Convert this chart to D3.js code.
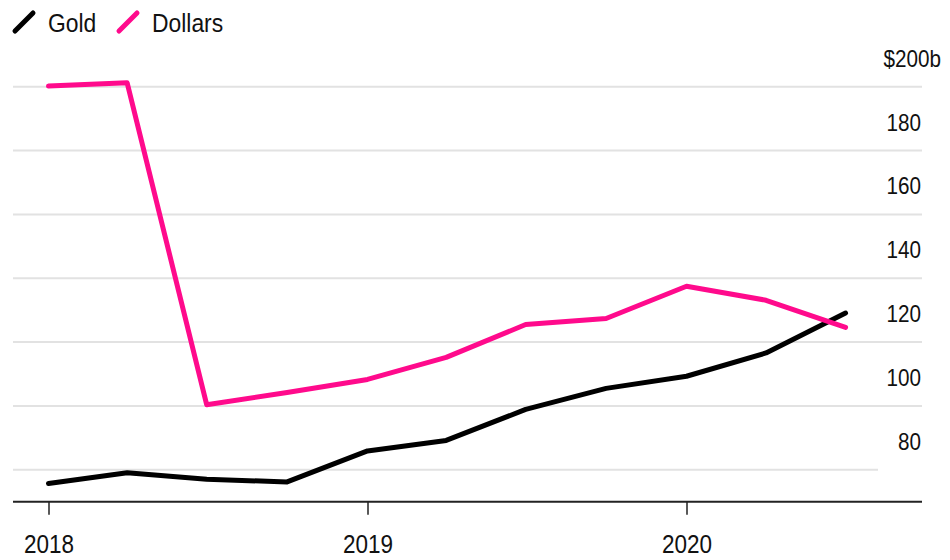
<!DOCTYPE html>
<html>
<head>
<meta charset="utf-8">
<script src="https://cdn.jsdelivr.net/npm/d3@7/dist/d3.min.js"></script>
<style>
  body { margin: 0; background: #fff; }
  svg { display: block; font-family: "Liberation Sans", Arial, Helvetica, sans-serif; }
</style>
</head>
<body>
<svg id="chart" width="950" height="560"></svg>
<script>
const quarters = ["2018-01-01","2018-04-01","2018-07-01","2018-10-01","2019-01-01","2019-04-01","2019-07-01","2019-10-01","2020-01-01","2020-04-01","2020-07-01"];
const gold    = [75.7, 79.1, 77.0, 76.2, 85.9, 89.2, 98.9, 105.5, 109.3, 116.6, 129.1];
const dollars = [200.2, 201.2, 100.4, 104.2, 108.3, 115.2, 125.5, 127.4, 137.5, 133.1, 124.6];
const yTicks = [80, 100, 120, 140, 160, 180, 200];
const xTicks = ["2018-01-01", "2019-01-01", "2020-01-01"];
const seriesNames = ["Gold", "Dollars"];
const seriesColors = ["#000000", "#ff0a8c"];

const parse = d3.timeParse("%Y-%m-%d");
const svg = d3.select("#chart");

const x = d3.scaleTime()
  .domain([parse("2018-01-01"), parse("2020-01-01")])
  .range([48.5, 686.5]);
const y = d3.scaleLinear().domain([70, 200]).range([501.7, 86.7]);

const left = 13, right = 922;
const sx = 0.88;

// gridlines
svg.append("g").selectAll("line").data(yTicks).join("line")
  .attr("x1", left)
  .attr("x2", d => d === 80 ? 878 : right)
  .attr("y1", d => y(d)).attr("y2", d => y(d))
  .attr("stroke", "#e2e2e2").attr("stroke-width", 2);

// y labels
svg.append("g").selectAll("text").data(yTicks).join("text")
  .attr("transform", d => `translate(${d === 200 ? 941 : 921},${y(d) - 20}) scale(${sx},1)`)
  .attr("text-anchor", "end")
  .attr("font-size", 23.5)
  .attr("fill", "#111")
  .text(d => d === 200 ? "$" + d + "b" : d);

// x axis
const xAxis = d3.axisBottom(x)
  .tickValues(xTicks.map(parse))
  .tickSize(13)
  .tickPadding(21)
  .tickFormat(d3.timeFormat("%Y"));
const gx = svg.append("g").attr("transform", `translate(0,${y(70)})`).call(xAxis);
gx.select(".domain").remove();
gx.selectAll(".tick line").attr("stroke", "#222").attr("stroke-width", 1.5);
gx.selectAll(".tick text").attr("font-size", 25).attr("fill", "#111")
  .attr("transform", `scale(0.9,1)`)
  .attr("font-family", "'Liberation Sans', Arial, sans-serif");
svg.append("line")
  .attr("x1", left).attr("x2", right)
  .attr("y1", y(70)).attr("y2", y(70))
  .attr("stroke", "#222").attr("stroke-width", 2);

// lines
const line = d3.line().x((d, i) => x(parse(quarters[i]))).y(d => y(d));
[gold, dollars].forEach((vals, k) => {
  svg.append("path")
    .datum(vals)
    .attr("d", line)
    .attr("fill", "none")
    .attr("stroke", seriesColors[k])
    .attr("stroke-width", 5)
    .attr("stroke-linejoin", "round")
    .attr("stroke-linecap", "round");
});

// legend
const legendX = [15, 119];
const legend = svg.append("g");
seriesNames.forEach((name, k) => {
  legend.append("line")
    .attr("x1", legendX[k]).attr("y1", 31)
    .attr("x2", legendX[k] + 18).attr("y2", 13)
    .attr("stroke", seriesColors[k]).attr("stroke-width", 5)
    .attr("stroke-linecap", "round");
  legend.append("text")
    .attr("transform", `translate(${legendX[k] + 33},32) scale(${sx},1)`)
    .attr("font-size", 26)
    .attr("fill", "#111")
    .text(name);
});
</script>
</body>
</html>
